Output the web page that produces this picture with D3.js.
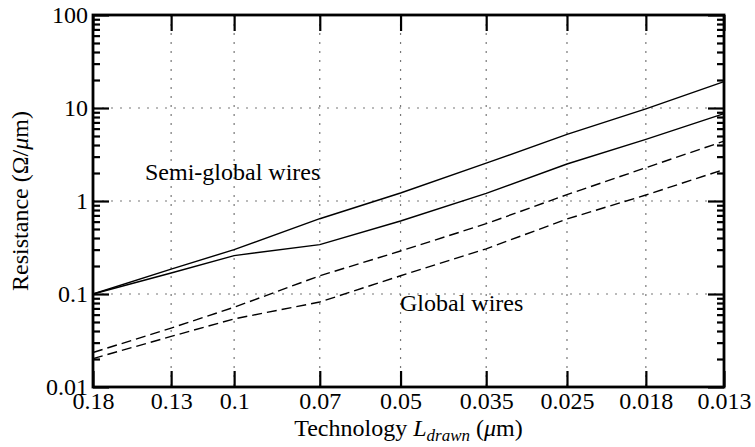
<!DOCTYPE html>
<html>
<head>
<meta charset="utf-8">
<script src="https://cdn.jsdelivr.net/npm/d3@7/dist/d3.min.js"></script>
<style>
  body { margin: 0; background: #fff; }
  svg text { font-family: "Liberation Serif", "Times New Roman", serif; fill: #000; }
</style>
</head>
<body>
<div id="chart"></div>
<script>
// technology nodes (um)
const techNodes = [0.18, 0.13, 0.1, 0.07, 0.05, 0.035, 0.025, 0.018, 0.013];
const techLabels = ["0.18", "0.13", "0.1", "0.07", "0.05", "0.035", "0.025", "0.018", "0.013"];

// resistance in ohm/um
const semiGlobalHigh = [0.1, 0.185, 0.30, 0.645, 1.22, 2.55, 5.2, 9.8, 19.2];
const semiGlobalLow  = [0.1, 0.168, 0.259, 0.34, 0.61, 1.21, 2.5, 4.6, 8.7];
const globalHigh     = [0.0235, 0.043, 0.072, 0.157, 0.29, 0.57, 1.17, 2.28, 4.4];
const globalLow      = [0.0202, 0.035, 0.054, 0.082, 0.157, 0.306, 0.64, 1.16, 2.18];

const yMajor = [0.01, 0.1, 1, 10, 100];
const yLabels = ["0.01", "0.1", "1", "10", "100"];

const W = 755, H = 447;
const m = { top: 15, right: 31, bottom: 60, left: 93 };
const iw = W - m.left - m.right, ih = H - m.top - m.bottom;

const svg = d3.select("#chart").append("svg").attr("width", W).attr("height", H);
const g = svg.append("g").attr("transform", `translate(${m.left},${m.top})`);

const x = d3.scaleLog().domain([0.18, 0.013]).range([0, iw]);
const y = d3.scaleLog().domain([0.01, 100]).range([ih, 0]);

// grid
const grid = g.append("g").attr("stroke", "#777").attr("stroke-width", 1.2)
  .attr("stroke-dasharray", "2,7");
grid.selectAll(".gx").data(techNodes.slice(1, -1)).join("line")
  .attr("x1", d => x(d)).attr("x2", d => x(d)).attr("y1", 0).attr("y2", ih);
grid.selectAll(".gy").data(yMajor.slice(1, -1)).join("line")
  .attr("x1", 0).attr("x2", iw).attr("y1", d => y(d)).attr("y2", d => y(d));

const fontSize = 24;
function styleAxis(sel) {
  sel.select(".domain").remove();
  sel.selectAll(".tick line").attr("stroke", "#000").attr("stroke-width", 2.2);
  sel.selectAll(".tick text").attr("font-size", fontSize).attr("font-family", "Liberation Serif");
}

const minorTicks = y.ticks().filter(v => !yMajor.some(t => Math.abs(t - v) / t < 1e-6));

// left axis
g.append("g").call(d3.axisLeft(y).tickValues(yMajor).tickSize(-16).tickPadding(5)
  .tickFormat((d, i) => yLabels[i])).call(styleAxis);
g.append("g").call(d3.axisLeft(y).tickValues(minorTicks).tickSize(-7).tickFormat("")).call(styleAxis);
// right axis
g.append("g").attr("transform", `translate(${iw},0)`)
  .call(d3.axisRight(y).tickValues(yMajor).tickSize(-16).tickFormat("")).call(styleAxis);
g.append("g").attr("transform", `translate(${iw},0)`)
  .call(d3.axisRight(y).tickValues(minorTicks).tickSize(-7).tickFormat("")).call(styleAxis);
// bottom / top axes
g.append("g").attr("transform", `translate(0,${ih})`)
  .call(d3.axisBottom(x).tickValues(techNodes).tickSize(-16).tickPadding(5)
    .tickFormat((d, i) => techLabels[i])).call(styleAxis);
g.append("g")
  .call(d3.axisTop(x).tickValues(techNodes).tickSize(-16).tickFormat("")).call(styleAxis);

// frame
g.append("rect").attr("width", iw).attr("height", ih)
  .attr("fill", "none").attr("stroke", "#000").attr("stroke-width", 2.8);

// lines
const line = d3.line().x((d, i) => x(techNodes[i])).y(d => y(d));
const series = [
  { v: semiGlobalHigh, dash: null },
  { v: semiGlobalLow, dash: null },
  { v: globalHigh, dash: "10,5" },
  { v: globalLow, dash: "10,5" }
];
g.selectAll(".series").data(series).join("path")
  .attr("d", d => line(d.v))
  .attr("fill", "none").attr("stroke", "#000").attr("stroke-width", 1.4)
  .attr("stroke-dasharray", d => d.dash);

// annotations
g.append("text").attr("x", 145 - m.left).attr("y", 180 - m.top)
  .attr("font-size", fontSize).text("Semi-global wires");
g.append("text").attr("x", 400 - m.left).attr("y", 311 - m.top)
  .attr("font-size", fontSize).text("Global wires");

// axis titles
const xt = svg.append("text").attr("x", m.left + iw / 2).attr("y", 436)
  .attr("text-anchor", "middle").attr("font-size", fontSize);
xt.append("tspan").text("Technology ");
xt.append("tspan").attr("font-style", "italic").text("L");
xt.append("tspan").attr("font-style", "italic").attr("font-size", 17).attr("dy", 5).text("drawn");
xt.append("tspan").attr("dy", -5).text(" (");
xt.append("tspan").attr("font-style", "italic").text("μ");
xt.append("tspan").text("m)");

const yt = svg.append("text")
  .attr("transform", `translate(28,${m.top + ih / 2}) rotate(-90)`)
  .attr("text-anchor", "middle").attr("font-size", fontSize);
yt.append("tspan").text("Resistance (Ω/");
yt.append("tspan").attr("font-style", "italic").text("μ");
yt.append("tspan").text("m)");
</script>
</body>
</html>
